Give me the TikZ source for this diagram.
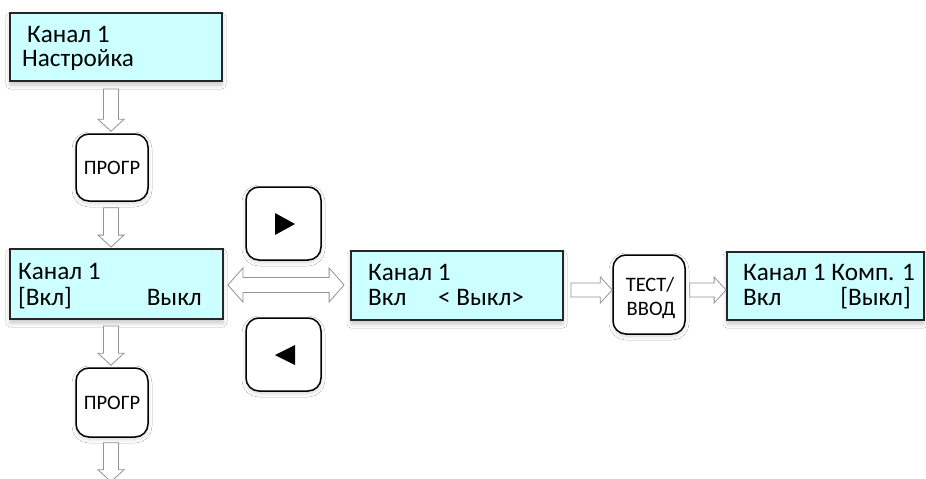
\documentclass[tikz,border=0pt]{standalone}
\usepackage{fontspec}
\setmainfont{Carlito}
\usetikzlibrary{calc,shadows.blur}
\definecolor{lcdcyan}{RGB}{204,255,255}
\newcommand\hadown[2]{\draw[harrow] let \p1=(#1), \p2=(#2) in
  (\x2-7.5pt,\y1) -- (\x2+7.5pt,\y1) -- (\x2+7.5pt,\y2+12pt) -- (\x2+13pt,\y2+12pt)
  -- (\x2,\y2) -- (\x2-13pt,\y2+12pt) -- (\x2-7.5pt,\y2+12pt) -- cycle;}
\newcommand\haright[2]{\draw[harrow] let \p1=(#1), \p2=(#2) in
  (\x1,\y1+7pt) -- (\x2-12pt,\y1+7pt) -- (\x2-12pt,\y1+13pt) -- (\x2,\y1)
  -- (\x2-12pt,\y1-13pt) -- (\x2-12pt,\y1-7pt) -- (\x1,\y1-7pt) -- cycle;}
\newcommand\haboth[2]{\draw[harrow] let \p1=(#1), \p2=(#2) in
  (\x1,\y1) -- (\x1+15pt,\y1+17pt) -- (\x1+15pt,\y1+7.5pt) -- (\x2-15pt,\y1+7.5pt)
  -- (\x2-15pt,\y1+17pt) -- (\x2,\y1) -- (\x2-15pt,\y1-17pt) -- (\x2-15pt,\y1-7.5pt)
  -- (\x1+15pt,\y1-7.5pt) -- (\x1+15pt,\y1-17pt) -- cycle;}
\begin{document}
\begin{tikzpicture}[x=1pt,y=-1pt,
  lcd/.style={draw=black!85, line width=1.8pt, fill=lcdcyan, inner sep=0pt,
    blur shadow={shadow xshift=0pt, shadow yshift=-4pt, shadow blur radius=4pt,
      shadow opacity=22}},
  btn/.style={draw=black, line width=1.5pt, fill=white, rounded corners=13pt, inner sep=0pt,
    blur shadow={shadow xshift=0pt, shadow yshift=-2pt, shadow blur radius=4pt,
      shadow opacity=18}},
  harrow/.style={draw=gray!85, line width=0.8pt, fill=white},
  txt/.style={inner sep=0pt, font=\fontsize{25.2}{24}\selectfont},
  btxt/.style={inner sep=0pt, font=\fontsize{20.5}{24}\selectfont}]
\useasboundingbox (0,0) rectangle (926,479);
\fill[white] (0,0) rectangle (926,479);

% LCD boxes
\node[lcd, minimum width=212pt, minimum height=68pt] (b1) at (116,47) {};
\node[lcd, minimum width=213pt, minimum height=70pt] (b2) at (116.5,284) {};
\node[lcd, minimum width=212pt, minimum height=69pt] (b3) at (457,285.5) {};
\node[lcd, minimum width=197pt, minimum height=68pt] (b4) at (825.5,286) {};

% buttons
\node[btn, minimum width=72pt, minimum height=67pt, btxt] (p1) at (112,167.5) {ПРОГР};
\node[btn, minimum width=72pt, minimum height=69pt, btxt] (p2) at (112,402.5) {ПРОГР};
\node[btn, minimum width=75pt, minimum height=73pt] (r) at (283.5,223.5) {};
\node[btn, minimum width=75pt, minimum height=73pt] (l) at (283.5,354.5) {};
\node[btn, minimum width=72pt, minimum height=79pt] (t) at (649,294.5) {};

% triangles
\fill[black] ($(r.center)+(-8.5,-10.5)$) -- ++(0,22) -- ++(20,-11) -- cycle;
\fill[black] ($(l.center)+(11.5,-9.5)$) -- ++(0,20) -- ++(-20,-10) -- cycle;

% texts
\node[txt, anchor=base west] (b1a) at (27,42) {Канал 1};
\node[txt, anchor=base west] (b1b) at (22,66) {Настройка};
\node[txt, anchor=base west] (b2a) at (18,279) {Канал 1};
\node[txt, anchor=base west] (b2b) at (18,305) {[Вкл]};
\node[txt, anchor=base east] (b2c) at (202,305) {Выкл};
\node[txt, anchor=base west] (b3a) at (368,280) {Канал 1};
\node[txt, anchor=base west] (b3b) at (368,305) {Вкл};
\node[txt, anchor=base west] (b3c) at (438,305) {< Выкл>};
\node[txt, anchor=base west] (b4a) at (743,280) {Канал 1 Комп. 1};
\node[txt, anchor=base west] (b4b) at (743,305) {Вкл};
\node[txt, anchor=base east] (b4c) at (911,305) {[Выкл]};
\node[btxt, anchor=base] (ta) at (650,291) {ТЕСТ/};
\node[btxt, anchor=base] (tb) at (651,315) {ВВОД};

% arrows
\coordinate (end) at ($(p2.south)+(-1,44)$);
\hadown{$(b1.south)+(0,7)$}{$(p1.north)+(-1,-2)$}
\hadown{$(p1.south)+(0,6)$}{$(b2.north)+(-5.5,-1)$}
\hadown{$(b2.south)+(0,6)$}{$(p2.north)+(-1,-2)$}
\hadown{$(p2.south)+(0,5)$}{end}
\haboth{$(b2.east)+(4,1)$}{$(b3.west)+(-6,0)$}
\haright{$(b3.east)+(7,4.5)$}{t.west}
\haright{$(t.east)+(4,-4.5)$}{b4.west}
\end{tikzpicture}
\end{document}
